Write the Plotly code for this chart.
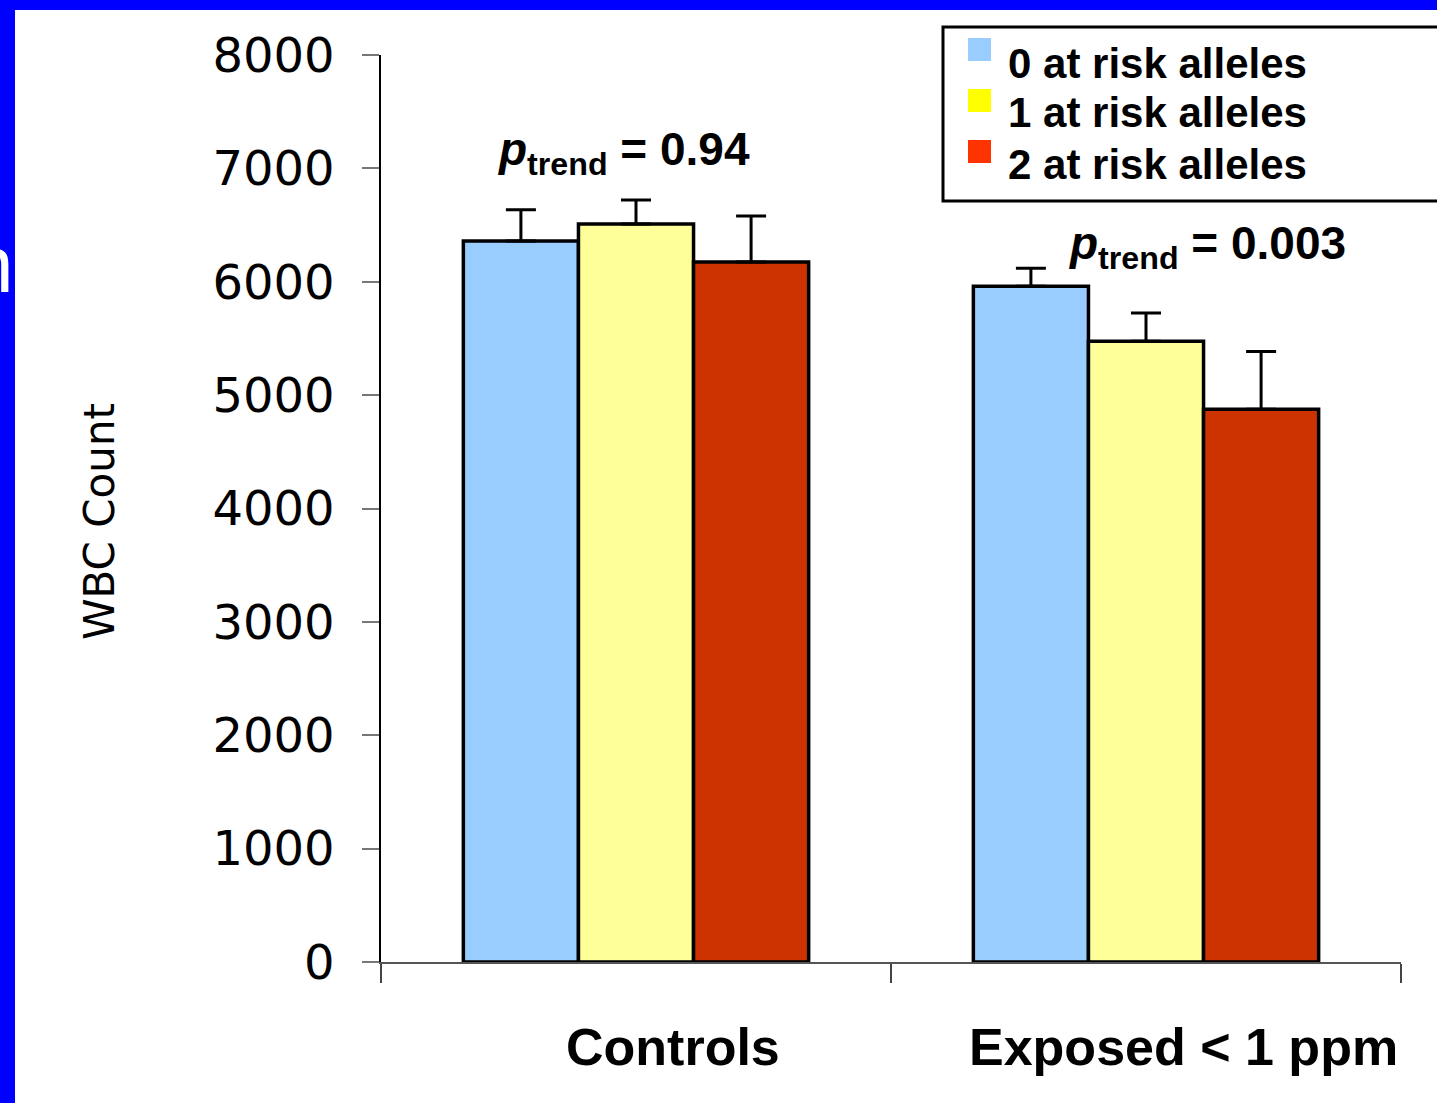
import plotly.graph_objects as go

categories = ["Controls", "Exposed < 1 ppm"]
series_names = ["0 at risk alleles", "1 at risk alleles", "2 at risk alleles"]
means = [
    [6360, 5960],   # 0 at risk alleles
    [6510, 5475],   # 1 at risk alleles
    [6175, 4875],   # 2 at risk alleles
]
errors = [
    [275, 160],
    [210, 250],
    [405, 510],
]
bar_colors = ["#99CCFF", "#FFFF99", "#CC3300"]
legend_colors = ["#99CCFF", "#FFFF00", "#FF3300"]
p_trend_labels = ["0.94", "0.003"]
y_ticks = [0, 1000, 2000, 3000, 4000, 5000, 6000, 7000, 8000]

# plot-area geometry (pixels)
W, H = 1437, 1103
L, R, T, B = 381, 36, 55, 141
PW, PH = W - L - R, H - T - B

def px(x):
    return (x - L) / PW

def py(y):
    return (H - B - y) / PH

fig = go.Figure()
for name, vals, errs, col in zip(series_names, means, errors, bar_colors):
    fig.add_trace(go.Bar(
        x=categories, y=vals, name=name, showlegend=False,
        marker=dict(color=col, line=dict(color="black", width=3.5)),
        error_y=dict(type="data", array=errs, arrayminus=[0] * len(errs),
                     symmetric=False, color="black", thickness=3, width=15),
    ))

shapes = []
annotations = []

# blue slide border fragments
shapes.append(dict(type="rect", xref="paper", yref="paper", x0=px(-5), x1=px(1445),
                   y0=py(10), y1=py(-5), fillcolor="#0000FF", line=dict(width=0), layer="above"))
shapes.append(dict(type="rect", xref="paper", yref="paper", x0=px(-5), x1=px(15),
                   y0=py(1110), y1=py(-5), fillcolor="#0000FF", line=dict(width=0), layer="above"))
annotations.append(dict(xref="paper", yref="paper", x=px(16), y=py(264), xanchor="right",
                        yanchor="middle", text="n", showarrow=False,
                        font=dict(family="Liberation Sans", size=80, color="white")))

# legend box
shapes.append(dict(type="rect", xref="paper", yref="paper", x0=px(943), x1=px(1445),
                   y0=py(201), y1=py(27), fillcolor="white",
                   line=dict(color="black", width=3), layer="above"))
sw_tops = [38, 89, 140]
txt_centers = [63, 113, 164]
for name, col, st, tc in zip(series_names, legend_colors, sw_tops, txt_centers):
    shapes.append(dict(type="rect", xref="paper", yref="paper", x0=px(968), x1=px(991),
                       y0=py(st + 23), y1=py(st), fillcolor=col, line=dict(width=0), layer="above"))
    annotations.append(dict(xref="paper", yref="paper", x=px(1006), y=py(tc), xanchor="left",
                            yanchor="middle", text="<b>" + name + "</b>", showarrow=False,
                            font=dict(family="Liberation Sans", size=42, color="black")))

# p-trend labels
p_pos = [(623, 152), (1207, 246)]
for lab, (cx, cy) in zip(p_trend_labels, p_pos):
    annotations.append(dict(xref="paper", yref="paper", x=px(cx), y=py(cy), xanchor="center",
                            yanchor="middle", showarrow=False,
                            text="<b><i>p</i><sub>trend</sub> = " + lab + "</b>",
                            font=dict(family="Liberation Sans", size=46, color="black")))

# category labels
for c in categories:
    annotations.append(dict(xref="x", yref="paper", x=c, xshift=37, y=py(1047), yanchor="middle",
                            text="<b>" + c + "</b>", showarrow=False,
                            font=dict(family="Liberation Sans", size=52, color="black")))

# y-axis title
annotations.append(dict(xref="paper", yref="paper", x=px(99), y=py(522), textangle=-90,
                        xanchor="center", yanchor="middle", text="WBC Count", showarrow=False,
                        font=dict(family="DejaVu Sans", size=42, color="black")))

fig.update_layout(
    width=W, height=H,
    margin=dict(l=L, r=R, t=T, b=B, pad=0),
    paper_bgcolor="white", plot_bgcolor="white",
    barmode="group", bargap=0.323, bargroupgap=0,
    showlegend=False,
    shapes=shapes, annotations=annotations,
    xaxis=dict(showline=True, linecolor="#555555", linewidth=1.5, ticks="outside",
               tickson="boundaries", ticklen=19, tickcolor="#444444", tickwidth=1.5,
               showticklabels=False, showgrid=False, zeroline=False),
    yaxis=dict(range=[0, 8000], tickvals=y_ticks, ticks="outside", ticklen=17,
               tickcolor="#777777", tickwidth=1.5, showline=True, linecolor="black",
               linewidth=1.5, showgrid=False, zeroline=False, ticklabelstandoff=18,
               tickfont=dict(family="DejaVu Sans", size=48, color="black")),
)

fig.write_html("out.html", config={"displayModeBar": False},
               post_script="document.body.style.margin='0';document.body.style.overflow='hidden';")
